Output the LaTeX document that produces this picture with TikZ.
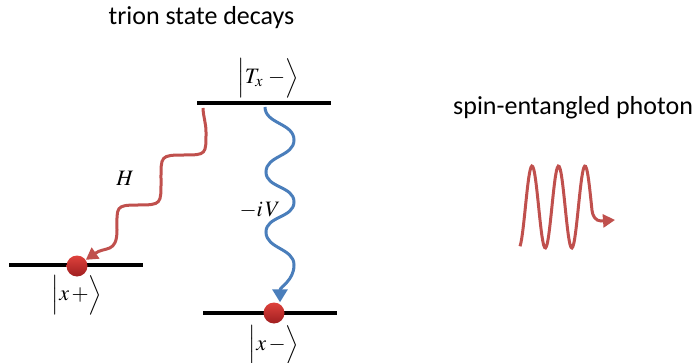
\documentclass[tikz,border=0pt]{standalone}
\usepackage{amsmath}
\usepackage{mathptmx}
\usepackage{fontspec}
\setmainfont{Carlito}
\usepackage{tikz}
\usetikzlibrary{arrows.meta}
\definecolor{decayred}{HTML}{C0504D}
\definecolor{decayblue}{HTML}{4A7EBB}
\definecolor{dottop}{RGB}{222,66,60}
\definecolor{dotbottom}{RGB}{160,30,32}

\begin{document}
\begin{tikzpicture}[x=1pt, y=1pt,
    level/.style={fill=black, inner sep=0pt, minimum width=134pt, minimum height=4.5pt},
    electron/.style={circle, inner sep=0pt, minimum size=21pt, top color=dottop, bottom color=dotbottom},
    ket/.style={font=\fontsize{22}{26}\selectfont, inner sep=0pt},
    txt/.style={font=\fontsize{26}{30}\selectfont, inner sep=0pt},
    redwave/.style={decayred, line width=3pt, -{Triangle[length=12pt, width=13pt]}},
    bluewave/.style={decayblue, line width=3pt, -{Triangle[length=13pt, width=15pt]}}
]
    \useasboundingbox (0,0) rectangle (699,362);

    \node[txt, anchor=base] (title) at (201.5,337) {trion state decays};
    \node[txt, anchor=base west] (photon) at (453,247) {spin-entangled photon};

    % energy levels
    \node[level] (Tx) at (263.5,259) {};
    \node[ket] (kTx) at (268,284) {$\Bigl|T_x\;-\Bigr\rangle$};
    \node[level] (xp) at (76,97) {};
    \node[ket] (kxp) at (77,67) {$\Bigl|x\,+\Bigr\rangle$};
    \node[level] (xm) at (270,49) {};
    \node[ket] (kxm) at (274,17) {$\Bigl|x\,-\Bigr\rangle$};

    \node[electron] (ep) at (77,96) {};
    \node[electron] (em) at (274,49) {};

    % decay paths
    \coordinate (rs) at (203,254);
    \coordinate (bs) at (265,255);
    \draw[redwave] (rs) to[out=-88,in=90] (206,230)
        to[out=-90,in=0,looseness=1.8] (184,207)
        to[out=180,in=90,looseness=1.8] (161,182)
        to[out=-90,in=0,looseness=1.8] (138,157)
        to[out=180,in=90,looseness=1.8] (117,132)
        to[out=-90,in=35,looseness=1.4] (ep);
    \draw[bluewave] (bs) to[out=-90,in=90] (294,222)
        to[out=-90,in=90] (266,190)
        to[out=-90,in=90] (294,160)
        to[out=-90,in=90] (266,130)
        to[out=-90,in=90] (294,97)
        to[out=-90,in=90] ([xshift=6pt]em.north);
    \node[ket] (H) at (125,184) {$H$};
    \node[ket] (iV) at (260,152) {$-i\,V$};

    % photon
    \draw[redwave] plot[domain=520:592, samples=80, smooth] (\x, {155+41*sin((\x-525.4)*13.585)})
        to[out=-84,in=180] (601,141) -- (615,142);
\end{tikzpicture}
\end{document}
